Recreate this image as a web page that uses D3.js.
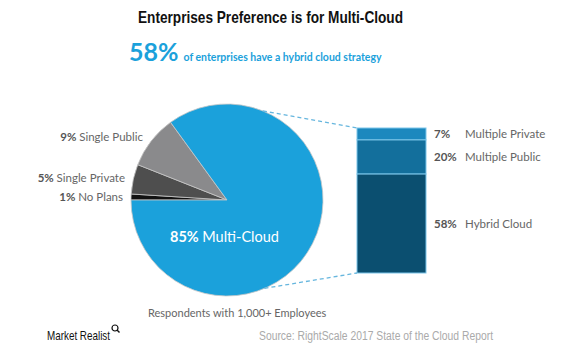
<!DOCTYPE html>
<html><head><meta charset="utf-8">
<script src="https://cdn.jsdelivr.net/npm/d3@7"></script>
<style>
body{margin:0;background:#fff;}
svg{display:block;}
</style></head>
<body>
<svg id="chart" width="587" height="350"></svg>
<script>
const title = "Enterprises Preference is for Multi-Cloud";
const headlineValue = "58%";
const headlineText = "of enterprises have a hybrid cloud strategy";
const pieLabels = ["No Plans", "Single Private", "Single Public", "Multi-Cloud"];
const pieValues = [1, 5, 9, 85];
const pieColors = ["#111111", "#4e4e4e", "#8a8a8c", "#1ba1db"];
const barLabels = ["Multiple Private", "Multiple Public", "Hybrid Cloud"];
const barValues = [7, 20, 58];
const barColors = ["#1c88be", "#136f9c", "#0b4f70"];
const footnote = "Respondents with 1,000+ Employees";
const source = "Source:  RightScale 2017 State of the Cloud Report";
const brand = "Market Realist";

const svg = d3.select("#chart");
const font = "Lato, 'Open Sans', sans-serif";

// Title
svg.append("text").attr("x", 138).attr("y", 23)
  .attr("font-family", "'Liberation Sans', Arial, sans-serif").attr("font-weight", "bold")
  .attr("font-size", 16.5).attr("fill", "#111")
  .attr("textLength", 265).attr("lengthAdjust", "spacingAndGlyphs").text(title);

// Headline
const hl = svg.append("text").attr("x", 129).attr("y", 61).attr("font-family", font)
  .attr("font-weight", "bold").attr("fill", "#1ba1db");
hl.append("tspan").attr("font-size", 25).text(headlineValue);
hl.append("tspan").attr("font-size", 10.5).attr("dx", 5).text(headlineText);

// Pie
const cx = 227, cy = 200, r = 96;
const pie = d3.pie().sort(null).value(d => d)
  .startAngle(1.5 * Math.PI).endAngle(3.5 * Math.PI);
const arcs = pie(pieValues);
const arc = d3.arc().innerRadius(0).outerRadius(r);
const pg = svg.append("g").attr("transform", `translate(${cx},${cy})`);
pg.selectAll("path").data(arcs).join("path")
  .attr("d", arc).attr("fill", (d, i) => pieColors[i])
  .attr("stroke", "#c8c8c8").attr("stroke-width", 0.8);

// Bar
const barX = 357, barW = 69;
const total = d3.sum(barValues);
const y = d3.scaleLinear().domain([0, total]).range([128, 273]);
const cum = d3.cumsum(barValues);
const segs = barValues.map((v, i) => ({v, i, y0: cum[i] - v, y1: cum[i]}));
svg.append("g").selectAll("rect").data(segs).join("rect")
  .attr("x", barX).attr("width", barW)
  .attr("y", d => y(d.y0)).attr("height", d => y(d.y1) - y(d.y0))
  .attr("fill", d => barColors[d.i]).attr("stroke", "#7cc6ea").attr("stroke-width", 1);

// Connector dashed lines
const a1 = 22 * Math.PI / 180, a2 = 157 * Math.PI / 180;
const p1 = [cx + r * Math.sin(a1), cy - r * Math.cos(a1)];
const p2 = [cx + r * Math.sin(a2), cy - r * Math.cos(a2)];
svg.append("line").attr("x1", p1[0]).attr("y1", p1[1]).attr("x2", barX).attr("y2", y(0))
  .attr("stroke", "#66b6de").attr("stroke-width", 1.3).attr("stroke-dasharray", "4,3");
svg.append("line").attr("x1", p2[0]).attr("y1", p2[1]).attr("x2", barX).attr("y2", y(total))
  .attr("stroke", "#66b6de").attr("stroke-width", 1.3).attr("stroke-dasharray", "4,3");

// Bar labels
const bl = svg.append("g").attr("font-family", font).attr("font-size", 11.5);
segs.forEach(d => {
  const ym = (y(d.y0) + y(d.y1)) / 2 + 4;
  bl.append("text").attr("x", 434).attr("y", ym).attr("font-weight", "bold")
    .attr("fill", "#555").text(d.v + "%");
  bl.append("text").attr("x", 465).attr("y", ym).attr("fill", "#666").text(barLabels[d.i]);
});

// Pie labels (left)
const leftPos = {"Single Public": [143, 141], "Single Private": [125, 182], "No Plans": [123, 201]};
const ll = svg.append("g").attr("font-family", font).attr("font-size", 11.5).attr("text-anchor", "end");
pieLabels.forEach((lab, i) => {
  if (!leftPos[lab]) return;
  const t = ll.append("text").attr("x", leftPos[lab][0]).attr("y", leftPos[lab][1]).attr("fill", "#555");
  t.append("tspan").attr("font-weight", "bold").text(pieValues[i] + "% ");
  t.append("tspan").attr("fill", "#666").text(lab);
});

// Inside label for Multi-Cloud
const mi = pieLabels.indexOf("Multi-Cloud");
const mt = svg.append("text").attr("x", 170).attr("y", 242).attr("font-family", font)
  .attr("font-size", 14.5).attr("fill", "#fff");
mt.append("tspan").attr("font-weight", "bold").text(pieValues[mi] + "% ");
mt.append("tspan").text(pieLabels[mi]);

// Footnote
svg.append("text").attr("x", 148).attr("y", 317).attr("font-family", font)
  .attr("font-size", 11).attr("fill", "#666").text(footnote);

// Source
svg.append("text").attr("x", 259).attr("y", 340)
  .attr("font-family", "'Liberation Sans', Arial, sans-serif").attr("font-size", 12.5)
  .attr("fill", "#aaa").attr("textLength", 234).attr("lengthAdjust", "spacingAndGlyphs").text(source);

// Brand
svg.append("text").attr("x", 47).attr("y", 340)
  .attr("font-family", "'Liberation Sans', Arial, sans-serif")
  .attr("font-size", 13.5).attr("fill", "#111")
  .attr("textLength", 63).attr("lengthAdjust", "spacingAndGlyphs").text(brand);
const mg = svg.append("g").attr("transform", "translate(115,328)").attr("fill", "none").attr("stroke", "#111");
mg.append("circle").attr("r", 3).attr("stroke-width", 1.2);
mg.append("line").attr("x1", 2).attr("y1", 2).attr("x2", 4.5).attr("y2", 4.5).attr("stroke-width", 1.4);
</script>
</body></html>
